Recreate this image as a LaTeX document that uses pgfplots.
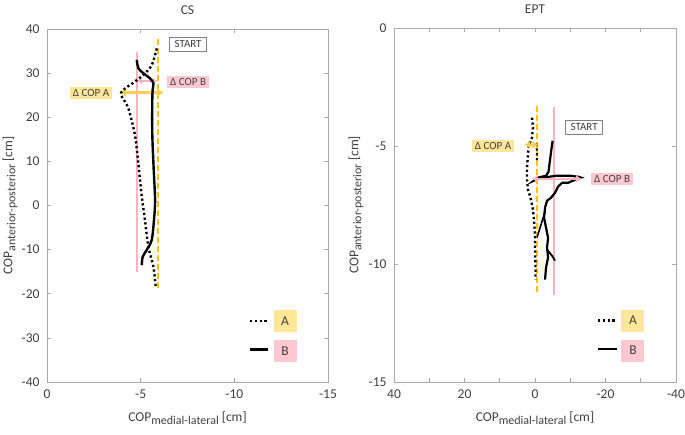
\documentclass[border=0pt]{standalone}
\usepackage{pgfplots}
\pgfplotsset{compat=1.18}
\usepackage{fontspec}
\setmainfont{Carlito}
\usetikzlibrary{arrows.meta}
\definecolor{axgray}{RGB}{170,170,170}
\definecolor{txtgray}{RGB}{64,64,64}
\definecolor{goldline}{RGB}{255,192,30}
\definecolor{goldarrow}{RGB}{255,205,80}
\definecolor{goldbox}{RGB}{255,230,153}
\definecolor{pinkline}{RGB}{245,180,192}
\definecolor{pinkbox}{RGB}{255,199,206}
\tikzset{
  lineA/.style={black, line width=2.4pt, dash pattern=on 2.2pt off 2.6pt},
  lineB/.style={black, line width=2.4pt},
  lbl/.style={font=\fontsize{11}{12}\selectfont, text=txtgray, inner xsep=3pt, inner ysep=2.6pt},
  legbox/.style={font=\fontsize{13.5}{15}\selectfont, text=txtgray, minimum width=23pt, minimum height=22pt, inner sep=0pt},
}
\pgfplotsset{
  copstyle/.style={
    scale only axis, x dir=reverse,
    tick align=inside, major tick length=4pt, minor tick length=4pt,
    axis line style={axgray, line width=0.7pt},
    tick style={axgray, line width=0.7pt},
    tick label style={font=\fontsize{13.5}{15}\selectfont, text=txtgray},
    /pgf/number format/assume math mode=true,
    xticklabel style={yshift=-4pt},
    yticklabel style={xshift=-4pt},
    label style={font=\fontsize{13.5}{15}\selectfont, text=txtgray},
    title style={font=\fontsize{13.5}{15}\selectfont, text=txtgray, anchor=center},
    xlabel={COP\raisebox{-0.45ex}{\fontsize{12}{13}\selectfont medial-lateral} [cm]},
    ylabel={COP\raisebox{-0.45ex}{\fontsize{12}{13}\selectfont anterior-posterior} [cm]},
  },
}
\begin{document}
\begin{tikzpicture}
\useasboundingbox (0,0) rectangle (685pt,434pt);
% ---------------- CS ----------------
\begin{axis}[copstyle,
  at={(47pt,52pt)}, anchor=south west, width=281pt, height=353pt,
  xmin=-15, xmax=0, ymin=-40, ymax=40,
  xtick={0,-5,-10,-15}, ytick={-40,-30,...,40},
  title={CS}, title style={at={(axis description cs:0.5,1.037)}},
  xlabel style={at={(axis description cs:0.5,-0.103)}, anchor=center},
  ylabel style={at={(axis description cs:-0.132,0.5)}, anchor=center},
]
% reference lines
\addplot[pinkline, line width=1.8pt] coordinates {(-4.80,34.8) (-4.80,-15.1)};
\addplot[goldline, line width=1.8pt, dash pattern=on 6pt off 3pt] coordinates {(-5.93,37.7) (-5.93,-18.9)};
\addplot[goldarrow, line width=2.2pt, {Latex[length=7pt,width=9pt]}-{Latex[length=7pt,width=9pt]}] coordinates {(-3.85,25.6) (-6.25,25.6)};
\addplot[pinkline, line width=1.8pt, {Latex[length=5pt,width=7pt]}-{Latex[length=5pt,width=7pt]}] coordinates {(-4.80,28.2) (-5.90,28.2)};
% series A (dotted)
\addplot[lineA, smooth] coordinates {
 (-5.86,35.6) (-5.59,31.8) (-5.14,29.6) (-4.70,28.1) (-3.95,25.5) (-4.32,22.3)
 (-4.68,16.3) (-4.86,10.2) (-5.04,2.7) (-5.23,-3.3) (-5.41,-9.3) (-5.68,-13.9) (-5.80,-18.3)};
% series B (solid)
\addplot[lineB, smooth] coordinates {
 (-4.79,33.0) (-4.88,31.1) (-5.14,30.0) (-5.50,28.8) (-5.68,27.7) (-5.64,26.2)
 (-5.62,23.8) (-5.62,16.3) (-5.69,8.7) (-5.77,1.2) (-5.71,-3.3) (-5.59,-7.8)
 (-5.32,-10.1) (-5.11,-11.6) (-5.06,-13.5)};
% labels
\node[lbl, fill=goldbox] at (axis cs:-2.35,25.5) {Δ COP A};
\node[lbl, fill=pinkbox] at (axis cs:-7.53,28.0) {Δ COP B};
\node[lbl, draw=gray, line width=0.8pt, inner xsep=5pt, inner ysep=3.5pt, fill=white] at (axis cs:-7.53,36.5) {START};
% legend
\addplot[lineA] coordinates {(-10.84,-26.2) (-11.75,-26.2)};
\addplot[lineB] coordinates {(-10.84,-32.6) (-11.80,-32.6)};
\node[legbox, fill=goldbox] at (axis cs:-12.71,-26.2) {A};
\node[legbox, fill=pinkbox] at (axis cs:-12.71,-33.0) {B};
\end{axis}
% ---------------- EPT ----------------
\begin{axis}[copstyle,
  at={(394pt,52pt)}, anchor=south west, width=282pt, height=354pt,
  xmin=-40, xmax=40, ymin=-15, ymax=0,
  xtick={-40,-20,...,40}, minor xtick={-30,-10,10,30}, ytick={-15,-10,-5,0},
  title={EPT}, title style={at={(axis description cs:0.5,1.037)}},
  xlabel style={at={(axis description cs:0.5,-0.103)}, anchor=center},
  ylabel style={at={(axis description cs:-0.135,0.5)}, anchor=center},
]
% reference lines
\addplot[goldline, line width=1.8pt, dash pattern=on 6pt off 3pt] coordinates {(-0.47,-3.32) (-0.47,-11.2)};
\addplot[pinkline, line width=1.8pt] coordinates {(-5.3,-3.35) (-5.3,-11.3)};
% series A (dotted)
\addplot[lineA] coordinates {
 (0.85,-3.80) (0.57,-4.22) (0.85,-4.65) (1.70,-4.94) (1.99,-5.37) (2.27,-5.92)
 (2.27,-6.43) (1.99,-6.85) (1.42,-7.11) (1.14,-7.28) (0.57,-7.70) (0.29,-8.12)
 (0.00,-8.76) (0.00,-9.39) (-0.15,-10.03) (-0.15,-10.66)};
\addplot[lineA, line width=2pt] coordinates {(-0.40,-4.90) (-0.57,-5.30) (-0.50,-5.66)};
% series B (solid)
\addplot[lineB, line width=2.2pt] coordinates {
 (-4.98,-4.78) (-4.27,-5.58) (-3.84,-6.09) (-3.13,-6.26) (-0.85,-6.34) (0.29,-6.47)
 (-1.43,-6.36) (-5.98,-6.26) (-9.96,-6.26) (-12.23,-6.30) (-13.08,-6.34) (-11.38,-6.43)
 (-9.39,-6.56) (-7.68,-6.56) (-6.55,-6.72) (-5.69,-6.98) (-4.56,-7.19) (-3.42,-7.32)
 (-2.85,-7.61) (-2.57,-8.04) (-3.13,-8.46) (-3.70,-8.89) (-3.42,-9.31) (-3.70,-9.73)
 (-3.13,-10.15) (-2.85,-10.66)};
\addplot[lineB, line width=1.6pt] coordinates {(-2.85,-7.79) (-1.71,-8.33) (-0.57,-8.88)};
\addplot[lineB, line width=1.8pt] coordinates {(-3.42,-9.39) (-4.84,-9.65) (-5.69,-9.86)};
% arrows
\addplot[goldarrow, line width=2.2pt, {Latex[length=6pt,width=8pt]}-{Latex[length=6pt,width=8pt]}] coordinates {(3.04,-4.95) (-0.94,-4.95)};
\addplot[pinkline, line width=2pt, {Latex[length=6pt,width=8pt]}-{Latex[length=6pt,width=8pt]}] coordinates {(0.93,-6.39) (-13.3,-6.39)};
% labels
\node[lbl, fill=goldbox] at (axis cs:11.9,-4.99) {Δ COP A};
\node[lbl, fill=pinkbox] at (axis cs:-21.9,-6.39) {Δ COP B};
\node[lbl, draw=gray, line width=0.8pt, inner xsep=5pt, inner ysep=3.5pt, fill=white] at (axis cs:-13.95,-4.20) {START};
% legend
\addplot[lineA] coordinates {(-17.9,-12.40) (-23.0,-12.40)};
\addplot[lineB] coordinates {(-17.9,-13.59) (-23.2,-13.59)};
\node[legbox, fill=goldbox] at (axis cs:-27.8,-12.40) {A};
\node[legbox, fill=pinkbox] at (axis cs:-27.8,-13.67) {B};
\end{axis}
\end{tikzpicture}
\end{document}
